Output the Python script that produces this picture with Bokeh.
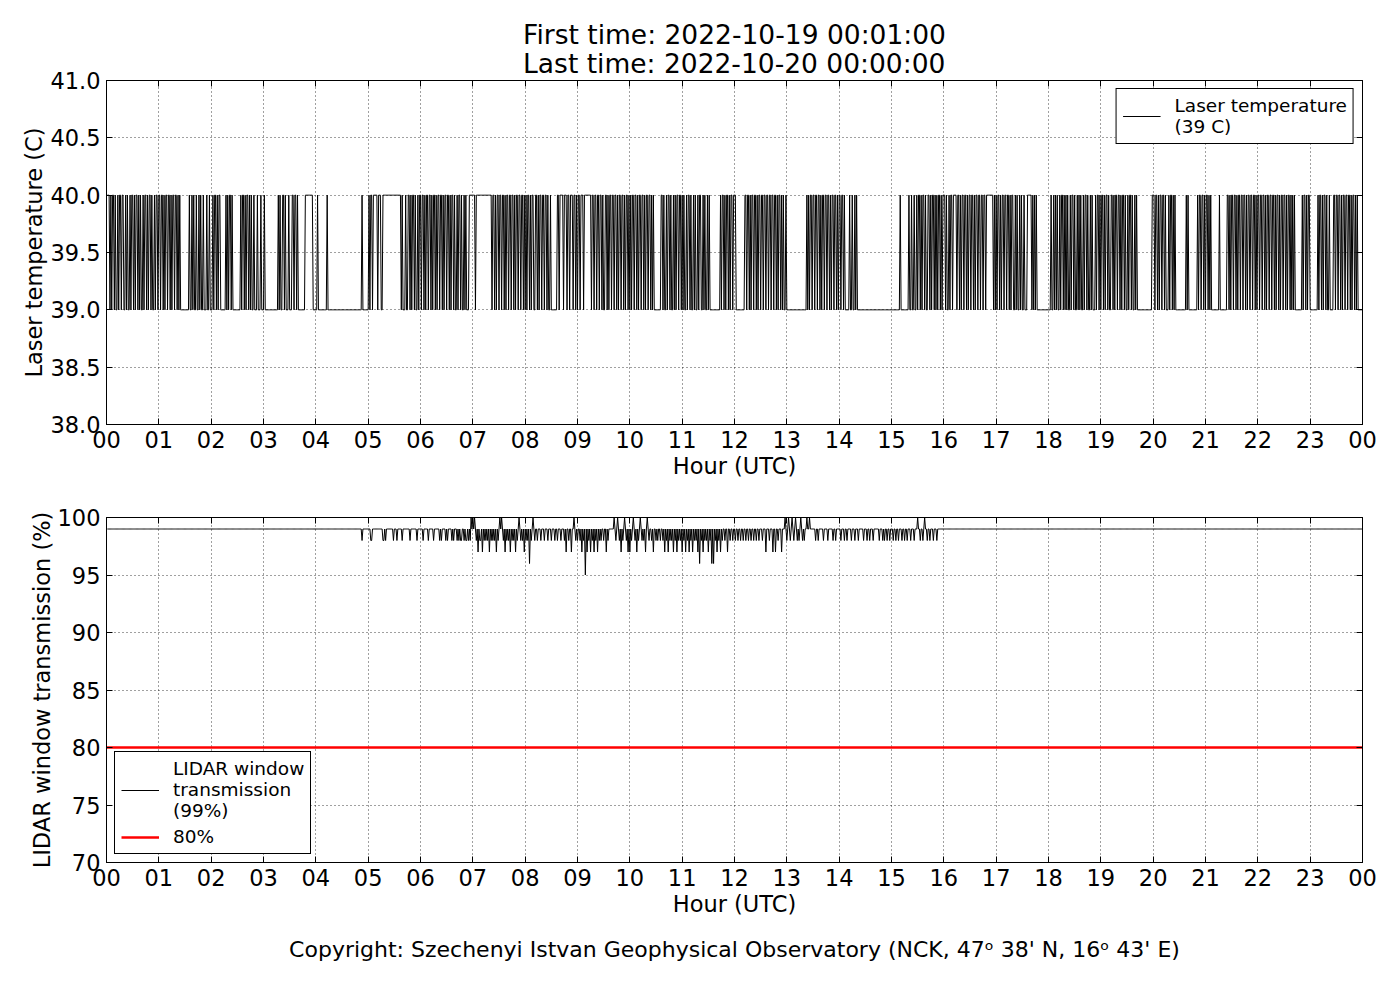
from bokeh.plotting import figure
from bokeh.models import (ColumnDataSource, FixedTicker, LinearAxis, Title, Legend,
                          LegendItem, PrintfTickFormatter, Range1d)
from bokeh.layouts import column
from bokeh.embed import file_html
from bokeh.resources import INLINE

FONT = "DejaVu Sans"

# ---------------- data ----------------
title_first = "First time: 2022-10-19 00:01:00"
title_last = "Last time: 2022-10-20 00:00:00"
copyright_text = "Copyright: Szechenyi Istvan Geophysical Observatory (NCK, 47\u1d52 38' N, 16\u1d52 43' E)"

hour_ticks = list(range(25))
hour_labels = ["00", "01", "02", "03", "04", "05", "06", "07", "08", "09", "10", "11",
               "12", "13", "14", "15", "16", "17", "18", "19", "20", "21", "22", "23", "00"]

temp_ticks = [38.0, 38.5, 39.0, 39.5, 40.0, 40.5, 41.0]
trans_ticks = [70, 75, 80, 85, 90, 95, 100]

temp_label = "Laser temperature\n(39 C)"
trans_label = "LIDAR window\ntransmission\n(99%)"
threshold_label = "80%"
threshold_value = 80
temp_base = 39
trans_base = 99.0

# laser temperature per minute (00:01 ... 24:00): '0' = 39 C, '1' = 40 C, one string per hour
temp_hours = [
    "1110101101 0010110110 0101001011 0101101010 0101101011 0100101101",  # 00
    "1011010110 1101011011 0101000000 0000100101 0010010100 1000100100",  # 01
    "0101101011 0000001010 1101000000 0001011010 1101010010 0010001000",  # 02
    "1000000000 0000001010 0110100010 0011011010 0000000111 1111110000",  # 03
    "0100000000 0010000000 0000000000 0000000000 0000000000 0010000000",  # 04
    "1011011111 0111001111 1111111111 1111111010 0010011010 1101001011",  # 05
    "0110101101 1010110101 1011010110 1101011010 0101101001 0100011111",  # 06
    "1101111111 1111111111 1011010110 1101101011 0110110101 1011011010",  # 07
    "1011010110 0110101101 1011010010 0000001101 1110111011 0111011010",  # 08
    "1101110111 1111101101 1011011010 0110101101 1011010110 1101011010",  # 09
    "1011011010 1101101011 0110101000 0000011010 0101101001 0101101101",  # 10
    "0100101101 0010100101 1001010010 1000000000 0001011010 1101011011",  # 11
    "1000000000 0110110101 1011010110 1101101101 1011011010 1101010010",  # 12
    "0000000000 0000000000 0010101101 1011011010 1101101101 0110110101",  # 13
    "1011010000 0100100101 0000000000 0000000000 0000000000 0000000000",  # 14
    "0000000001 0000000001 0010010010 1101011010 0110101101 0101101011",  # 15
    "1010010110 1111011010 1101101011 0110101101 1011011011 1111110101",  # 16
    "0110101101 1011010110 0101001010 0100011111 0101010000 0000000000",  # 17
    "0010010101 0010110101 0100101101 0010101001 0110100101 0001011010",  # 18
    "1101011010 0110101101 1010110100 1011010010 1000000000 0000000011",  # 19
    "1011010110 1101000101 1010100000 0000000101 0000000000 1011011010",  # 20
    "1101010000 0000010000 0000110101 1011010110 1101101011 0110110101",  # 21
    "1011011010 1101101101 0110101101 1010110101 0100000000 1011010110",  # 22
    "0000000010 1101011010 0100001101 1011010110 1101101011 0101000000",  # 23
]

# LIDAR window transmission: 99 % all day except these minutes
trans_times = [
    "04:53", "05:03", "05:04", "05:17", "05:18", "05:20", "05:29", "05:33", "05:39", "05:48",
    "05:56", "06:03", "06:09", "06:15", "06:22", "06:24", "06:29", "06:31", "06:36", "06:38",
    "06:42", "06:44", "06:46", "06:47", "06:50", "06:52", "06:53", "06:55", "06:57",
    "06:58", "07:00", "07:02",
    "07:04", "07:06", "07:08", "07:09", "07:11", "07:13", "07:15", "07:17", "07:19", "07:21",
    "07:23", "07:25", "07:27", "07:29", "07:31", "07:33", "07:35", "07:37", "07:39", "07:41",
    "07:43", "07:45", "07:47", "07:49", "07:51", "07:53", "07:55", "07:57", "07:59",
    "08:01", "08:03", "08:05", "08:07", "08:09", "08:11", "08:14", "08:18", "08:22", "08:26",
    "08:30", "08:34", "08:37", "08:41", "08:45", "08:47", "08:50", "08:53", "08:56",
    "08:58", "09:00", "09:03", "09:05", "09:07", "09:09", "09:11", "09:13", "09:15", "09:17",
    "09:19", "09:21", "09:23", "09:25", "09:27", "09:30", "09:33", "09:35",
    "09:42", "09:44", "09:46", "09:48", "09:50", "09:52", "09:54", "09:56", "09:58", "10:00",
    "10:02", "10:04", "10:06", "10:08", "10:10", "10:12", "10:14", "10:16", "10:18", "10:20",
    "10:22", "10:25", "10:27", "10:30", "10:32", "10:35",
    "10:38", "10:40", "10:42", "10:44", "10:46", "10:48", "10:50", "10:52", "10:54", "10:56",
    "10:58", "11:00", "11:02", "11:04", "11:06", "11:08", "11:10", "11:12", "11:14", "11:16",
    "11:18", "11:20", "11:22", "11:24", "11:26", "11:28", "11:30", "11:32", "11:34", "11:36",
    "11:38", "11:40", "11:42", "11:44", "11:46",
    "11:49", "11:52", "11:55", "11:58", "12:01", "12:04", "12:07", "12:10", "12:13", "12:16",
    "12:19", "12:22", "12:25", "12:28", "12:32", "12:36", "12:40", "12:44", "12:47", "12:50",
    "12:54",
    "12:58", "13:00", "13:02", "13:04", "13:06", "13:08", "13:10", "13:12", "13:14", "13:16",
    "13:18", "13:20", "13:23", "13:26",
    "13:33", "13:36", "13:42", "13:47", "13:53", "13:56", "14:02", "14:06", "14:09", "14:14",
    "14:18", "14:22", "14:28", "14:32", "14:35", "14:39", "14:46", "14:50", "14:52", "14:55",
    "14:58", "15:02", "15:05", "15:08", "15:12", "15:15", "15:18", "15:22", "15:26", "15:30",
    "15:33", "15:36", "15:38", "15:41", "15:44", "15:48", "15:52",
]
trans_values = [
    98, 98, 98, 98, 98, 98, 98, 98, 98, 98,
    98, 98, 98, 98, 98, 98, 98, 98, 98, 98,
    98, 98, 98, 98, 98, 98, 98, 98, 98,
    100, 100, 100,
    98, 97, 98, 98, 97, 98, 98, 98, 97, 98,
    98, 98, 97, 98, 100, 100, 98, 97, 98, 98,
    97, 98, 98, 97, 98, 100, 98, 98, 97,
    98, 98, 96, 98, 100, 98, 98, 98, 98, 98,
    98, 98, 98, 98, 98, 97, 98, 97, 100,
    98, 98, 98, 97, 98, 95, 97, 98, 97, 98,
    97, 98, 97, 98, 98, 98, 97, 98,
    100, 98, 100, 98, 97, 98, 100, 98, 97, 97,
    98, 100, 98, 97, 98, 100, 98, 98, 97, 100,
    98, 98, 97, 98, 98, 98,
    98, 97, 98, 97, 98, 98, 97, 98, 97, 98,
    98, 97, 98, 97, 98, 97, 98, 97, 98, 98,
    97, 96, 98, 97, 98, 98, 97, 98, 96, 96,
    98, 97, 98, 97, 98,
    98, 97, 98, 98, 98, 98, 98, 98, 98, 98,
    98, 98, 98, 98, 98, 97, 98, 97, 97, 98,
    97,
    100, 98, 100, 98, 100, 98, 100, 98, 98, 100,
    98, 98, 100, 100,
    98, 98, 98, 98, 98, 98, 98, 98, 98, 98,
    98, 98, 98, 98, 98, 98, 98, 98, 98, 98,
    98, 98, 98, 98, 98, 98, 98, 98, 98, 100,
    98, 98, 100, 98, 98, 98, 98,
]

# ---------------- build series ----------------
temp_codes = "".join("".join(h.split()) for h in temp_hours)
temp_x = [(i + 1) / 60.0 for i in range(len(temp_codes))]
temp_y = [temp_base + int(c) for c in temp_codes]

n_min = 24 * 60
trans_y = [trans_base] * n_min
for t, v in zip(trans_times, trans_values):
    hh, mm = t.split(":")
    trans_y[int(hh) * 60 + int(mm) - 1] = v
trans_x = [(i + 1) / 60.0 for i in range(n_min)]


def style(p, ylabel, yticks, yfmt):
    p.outline_line_color = "black"
    p.outline_line_width = 1
    p.outline_line_alpha = 1
    p.background_fill_color = "white"
    p.border_fill_color = "white"
    ax = p.xaxis[0]
    ax.ticker = FixedTicker(ticks=hour_ticks)
    ax.major_label_overrides = {t: l for t, l in zip(hour_ticks, hour_labels)}
    ax.axis_label = "Hour (UTC)"
    ay = p.yaxis[0]
    ay.ticker = FixedTicker(ticks=yticks)
    ay.formatter = PrintfTickFormatter(format=yfmt)
    ay.axis_label = ylabel
    for a in (ax, ay):
        a.axis_label_text_font = FONT
        a.axis_label_text_font_size = "22.5px"
        a.axis_label_text_font_style = "normal"
        a.axis_label_text_color = "black"
        a.major_label_text_font = FONT
        a.major_label_text_font_size = "22.5px"
        a.major_label_text_color = "black"
        a.major_tick_in = 6
        a.major_tick_out = 0
        a.major_tick_line_color = "black"
        a.minor_tick_line_color = None
        a.axis_line_color = "black"
        a.major_label_standoff = 6
    ax.major_label_standoff = 6
    ax.axis_label_standoff = 2
    ay.axis_label_standoff = 0
    # mirrored tick marks on top and right
    top = LinearAxis(ticker=FixedTicker(ticks=hour_ticks), major_tick_in=6, major_tick_out=0,
                     minor_tick_line_color=None, axis_line_color="black",
                     major_label_text_font_size="0px", major_label_text_alpha=0,
                     major_label_standoff=0)
    p.add_layout(top, "above")
    right = LinearAxis(ticker=FixedTicker(ticks=yticks), major_tick_in=6, major_tick_out=0,
                       minor_tick_line_color=None, axis_line_color="black",
                       major_label_text_font_size="0px", major_label_text_alpha=0,
                       major_label_standoff=0)
    p.add_layout(right, "right")
    for g, tk in ((p.xgrid[0], hour_ticks), (p.ygrid[0], yticks)):
        g.ticker = FixedTicker(ticks=tk)
        g.grid_line_color = "black"
        g.grid_line_alpha = 0.75
        g.grid_line_dash = "1 3"
        g.grid_line_width = 1


def legend_style(leg):
    leg.border_line_color = "black"
    leg.border_line_width = 1
    leg.border_line_alpha = 1
    leg.background_fill_color = "white"
    leg.background_fill_alpha = 1
    leg.label_text_font = FONT
    leg.label_text_font_size = "18.5px"
    leg.label_text_line_height = 1.1
    leg.label_text_color = "black"
    leg.glyph_width = 38
    leg.glyph_height = 20
    leg.label_standoff = 14
    leg.padding = 6
    leg.margin = 8
    leg.spacing = 5


# ---------------- top panel ----------------
p1 = figure(width=1384, height=495, output_backend="svg", toolbar_location=None,
            x_range=Range1d(0, 24), y_range=Range1d(38, 41),
            min_border_left=106, min_border_right=22, min_border_top=80, min_border_bottom=71)
style(p1, "Laser temperature (C)", temp_ticks, "%.1f")
r1 = p1.line(x="x", y="y", source=ColumnDataSource(dict(x=temp_x, y=temp_y)),
             line_color="black", line_width=1)
leg1 = Legend(items=[LegendItem(label=temp_label, renderers=[r1])], location="top_right")
legend_style(leg1)
p1.add_layout(leg1)
p1.add_layout(Title(text=title_first + "\n" + title_last, align="center", text_font=FONT,
                    text_font_size="26.5px", text_font_style="normal", text_color="black",
                    text_line_height=0.95, standoff=2), "above")

# ---------------- bottom panel ----------------
p2 = figure(width=1384, height=490, output_backend="svg", toolbar_location=None,
            x_range=Range1d(0, 24), y_range=Range1d(70, 100),
            min_border_left=106, min_border_right=22, min_border_top=22, min_border_bottom=123)
style(p2, "LIDAR window transmission (%)", trans_ticks, "%d")
r2 = p2.line(x="x", y="y", source=ColumnDataSource(dict(x=trans_x, y=trans_y)),
             line_color="black", line_width=1)
r3 = p2.line(x=[hour_ticks[0], hour_ticks[-1]], y=[threshold_value, threshold_value],
             line_color="red", line_width=2.5)
leg2 = Legend(items=[LegendItem(label=trans_label, renderers=[r2]),
                     LegendItem(label=threshold_label, renderers=[r3])], location="bottom_left")
legend_style(leg2)
p2.add_layout(leg2)
p2.add_layout(Title(text=copyright_text, align="center", text_font=FONT, text_font_size="22px",
                    text_font_style="normal", text_color="black", standoff=30), "below")

layout = column(p1, p2, spacing=0)
open("out.html", "w").write(file_html(layout, INLINE))
